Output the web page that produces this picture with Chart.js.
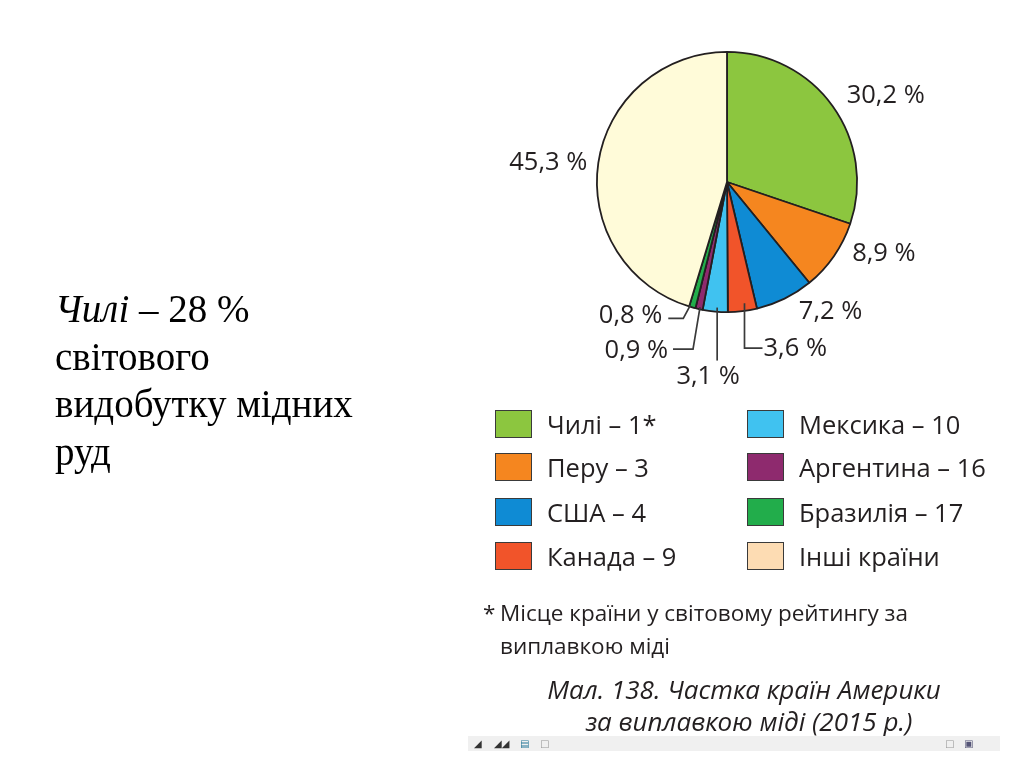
<!DOCTYPE html>
<html>
<head>
<meta charset="utf-8">
<script src="https://cdn.jsdelivr.net/npm/chart.js@4.4.1/dist/chart.umd.min.js"></script>
<style>
  html, body { margin: 0; padding: 0; background: #fff; }
  body { width: 1024px; height: 767px; position: relative; overflow: hidden; }
  #wrap { position: absolute; left: 0; top: 0; width: 1024px; height: 767px; }
  .side { position: absolute; left: 55px; top: 285px; font-family: "Liberation Serif", "Times New Roman", serif;
          font-size: 39px; line-height: 47.5px; color: #000; }
  .side i { font-style: italic; }
  .legend { position: absolute; left: 0; top: 0; font-family: "Open Sans", sans-serif; font-size: 25.5px; color: #231f20; }
  .item { position: absolute; height: 30px; display: flex; align-items: center; white-space: nowrap; }
  .sw { width: 37px; height: 28px; border: 1px solid #3a3a3a; box-sizing: border-box; margin-right: 15px; }
  .note { position: absolute; font-family: "Open Sans", sans-serif; font-size: 22.5px; color: #231f20; white-space: nowrap; }
  .cap { position: absolute; font-family: "Open Sans", sans-serif; font-style: italic; font-size: 26px; color: #231f20;
         white-space: nowrap; text-align: center; width: 500px; left: 494px; }
  .bar { position: absolute; left: 468px; top: 736px; width: 532px; height: 15px; background: #f0f0f0; }
  .ic { position: absolute; top: 2px; font-size: 10px; color: #333; font-family: "DejaVu Sans", sans-serif; }
</style>
</head>
<body>
<div id="wrap"><canvas id="c" width="1024" height="767"></canvas></div>
<div class="side"><i>Чилі</i> – 28 %<br>світового<br>видобутку мідних<br>руд</div>
<div class="legend" id="legend"></div>
<div class="note" style="left:483px; top:597px;">*</div>
<div class="note" style="left:500px; top:597px;">Місце країни у світовому рейтингу за</div>
<div class="note" style="left:500px; top:630px;">виплавкою міді</div>
<div class="cap" style="top:671px;">Мал. 138. Частка країн Америки</div>
<div class="cap" style="top:703px; left:499px;">за виплавкою міді (2015 р.)</div>
<div class="bar">
  <span class="ic" style="left:6px;">&#9698;</span>
  <span class="ic" style="left:26px;">&#9698;&#9698;</span>
  <span class="ic" style="left:52px; color:#2a7a9a;">&#9636;</span>
  <span class="ic" style="left:72px; color:#999;">&#9633;</span>
  <span class="ic" style="left:477px; color:#999;">&#9633;</span>
  <span class="ic" style="left:496px; color:#557;">&#9635;</span>
</div>
<script>
// ---- data ----
const countries = ["Чилі", "Перу", "США", "Канада", "Мексика", "Аргентина", "Бразилія", "Інші країни"];
const ranks = ["1*", "3", "4", "9", "10", "16", "17", ""];
const shares = [30.2, 8.9, 7.2, 3.6, 3.1, 0.9, 0.8, 45.3];
const sliceColors = ["#8cc63f", "#f5861f", "#0f8bd4", "#f1542a", "#40c2f0", "#8e2a6e", "#22ad4b", "#fffbd9"];
const legendColors = ["#8cc63f", "#f5861f", "#0f8bd4", "#f1542a", "#40c2f0", "#8e2a6e", "#22ad4b", "#fddcb3"];

function fmt(v) { return v.toFixed(1).replace('.', ',') + ' %'; }

// ---- legend (HTML, built from data) ----
const legendEl = document.getElementById('legend');
const legendOrder = [[0, 1, 2, 3], [4, 5, 6, 7]];
const colX = [495, 747];
const rowY = [409, 452, 497, 541];
legendOrder.forEach((col, ci) => {
  col.forEach((idx, ri) => {
    const d = document.createElement('div');
    d.className = 'item';
    d.style.left = colX[ci] + 'px';
    d.style.top = rowY[ri] + 'px';
    const sw = document.createElement('div');
    sw.className = 'sw';
    sw.style.background = legendColors[idx];
    const t = document.createElement('span');
    t.textContent = ranks[idx] ? countries[idx] + ' – ' + ranks[idx] : countries[idx];
    d.appendChild(sw); d.appendChild(t);
    legendEl.appendChild(d);
  });
});

// ---- label plugin ----
const labelPlugin = {
  id: 'pctLabels',
  afterDatasetsDraw(chart) {
    const ctx = chart.ctx;
    const meta = chart.getDatasetMeta(0);
    ctx.save();
    ctx.font = '25.5px "Open Sans", sans-serif';
    ctx.fillStyle = '#231f20';
    ctx.strokeStyle = '#3a3a3a';
    ctx.lineWidth = 1.7;
    ctx.textBaseline = 'middle';
    meta.data.forEach((arc, i) => {
      const p = arc.getProps(['x', 'y', 'startAngle', 'endAngle', 'outerRadius'], true);
      const mid = (p.startAngle + p.endAngle) / 2;
      const ex = p.x + Math.cos(mid) * p.outerRadius;
      const ey = p.y + Math.sin(mid) * p.outerRadius;
      const txt = fmt(shares[i]);
      const line = (pts) => { ctx.beginPath(); ctx.moveTo(pts[0][0], pts[0][1]); for (let k = 1; k < pts.length; k++) ctx.lineTo(pts[k][0], pts[k][1]); ctx.stroke(); };
      switch (i) {
        case 0: ctx.textAlign = 'center'; ctx.fillText(txt, ex + 53, ey - 10); break;
        case 1: ctx.textAlign = 'center'; ctx.fillText(txt, ex + 50, ey - 2); break;
        case 2: ctx.textAlign = 'center'; ctx.fillText(txt, ex + 46, ey + 13); break;
        case 3:
          line([[ex + 2, ey - 8], [ex + 2, ey + 37], [ex + 20, ey + 37]]);
          ctx.textAlign = 'left'; ctx.fillText(txt, ex + 21, ey + 38); break;
        case 4:
          line([[ex + 2, ey - 4], [ex + 2, ey + 49]]);
          ctx.textAlign = 'center'; ctx.fillText(txt, ex - 7, ey + 65); break;
        case 5:
          line([[ex + 1, ey - 2], [ex - 6, ey + 40], [ex - 26, ey + 40]]);
          ctx.textAlign = 'right'; ctx.fillText(txt, ex - 31, ey + 42); break;
        case 6:
          line([[ex - 2, ey - 2], [ex - 9, ey + 11], [ex - 24, ey + 11]]);
          ctx.textAlign = 'right'; ctx.fillText(txt, ex - 30, ey + 8); break;
        case 7: ctx.textAlign = 'right'; ctx.fillText(txt, ex - 11, ey); break;
      }
    });
    ctx.restore();
  }
};

new Chart(document.getElementById('c'), {
  type: 'pie',
  data: {
    labels: countries,
    datasets: [{
      data: shares,
      backgroundColor: sliceColors,
      borderColor: '#231f20',
      borderWidth: 1.8
    }]
  },
  options: {
    responsive: false,
    animation: false,
    layout: { padding: { left: 596, top: 51, right: 1024 - 858, bottom: 767 - 313 } },
    plugins: { legend: { display: false }, tooltip: { enabled: false } }
  },
  plugins: [labelPlugin]
});
</script>
</body>
</html>
